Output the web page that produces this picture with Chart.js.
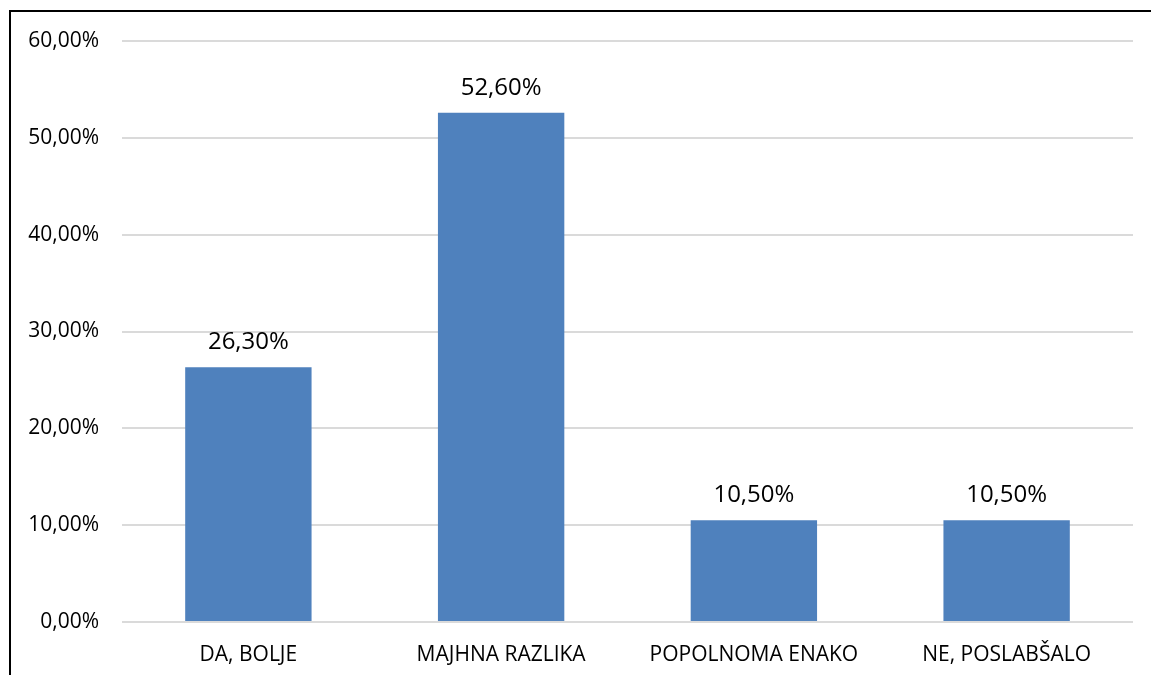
<!DOCTYPE html>
<html>
<head>
<meta charset="utf-8">
<script src="https://cdn.jsdelivr.net/npm/chart.js@4/dist/chart.umd.min.js"></script>
<style>
    html, body { margin: 0; padding: 0; background: #fff; overflow: hidden; }
    #wrap { position: relative; width: 1151px; height: 675px; }
    #frame {
        position: absolute; left: 9px; top: 10px; width: 1200px; height: 700px;
        border-left: 2px solid #000; border-top: 2px solid #000;
    }
    canvas { position: absolute; left: 0; top: 0; }
</style>
</head>
<body>
<div id="wrap">
    <div id="frame"></div>
    <canvas id="chart" width="1151" height="675"></canvas>
</div>
<script>
const categories = ['DA, BOLJE', 'MAJHNA RAZLIKA', 'POPOLNOMA ENAKO', 'NE, POSLABŠALO'];
const values = [26.3, 52.6, 10.5, 10.5];
const yMin = 0;
const yMax = 60;
const yStep = 10;

function pct(v) {
    return v.toFixed(2).replace('.', ',') + '%';
}

// draws the value above each bar
const barLabels = {
    id: 'barLabels',
    afterDatasetsDraw(chart) {
        const ctx = chart.ctx;
        const meta = chart.getDatasetMeta(0);
        ctx.save();
        ctx.font = '24px "Open Sans"';
        ctx.fillStyle = '#000';
        ctx.textAlign = 'center';
        ctx.textBaseline = 'alphabetic';
        meta.data.forEach(function(bar, i) {
            ctx.fillText(pct(values[i]), bar.x, bar.y - 18);
        });
        ctx.restore();
    }
};

new Chart(document.getElementById('chart'), {
    type: 'bar',
    data: {
        labels: categories,
        datasets: [{
            data: values,
            backgroundColor: '#4F81BD',
            borderWidth: 0,
            barPercentage: 0.5,
            categoryPercentage: 1
        }]
    },
    options: {
        responsive: false,
        animation: false,
        layout: { padding: { top: 41, right: 18, left: 0, bottom: 0 } },
        plugins: {
            legend: { display: false },
            tooltip: { enabled: false }
        },
        scales: {
            x: {
                grid: { display: false, drawTicks: false },
                border: { display: false },
                ticks: {
                    color: '#000',
                    font: { family: 'Open Sans', size: 21 },
                    padding: 20,
                    maxRotation: 0
                },
                afterFit(scale) { scale.height = 53; }
            },
            y: {
                min: yMin,
                max: yMax,
                grid: { color: '#dadada', lineWidth: 2, drawTicks: false },
                border: { display: false },
                ticks: {
                    stepSize: yStep,
                    color: '#000',
                    font: { family: 'Open Sans', size: 21 },
                    padding: 23,
                    callback: function(v) { return pct(v); }
                },
                afterFit(scale) { scale.width = 122; }
            }
        }
    },
    plugins: [barLabels]
});
</script>
</body>
</html>
